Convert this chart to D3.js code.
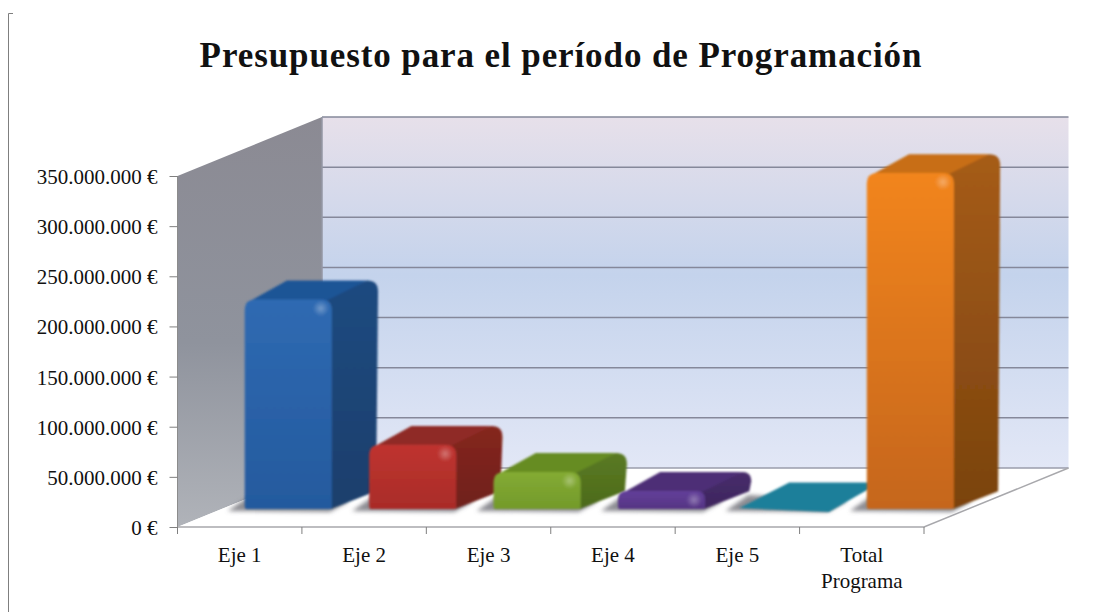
<!DOCTYPE html>
<html><head><meta charset="utf-8">
<script src="https://cdn.jsdelivr.net/npm/d3@7/dist/d3.min.js"></script>
<style>html,body{margin:0;padding:0;background:#fff}svg{display:block}text{font-family:"Liberation Serif",serif;fill:#111}</style>
</head><body><svg id="c" width="1098" height="612"></svg>
<script>
const title = "Presupuesto para el período de Programación";
const categories = ["Eje 1","Eje 2","Eje 3","Eje 4","Eje 5","Total Programa"];
const values = [209000000,64000000,37000000,18000000,1000000,335000000];
const tickValues = [0,50000000,100000000,150000000,200000000,250000000,300000000,350000000];
const tickLabels = ["0 €","50.000.000 €","100.000.000 €","150.000.000 €","200.000.000 €","250.000.000 €","300.000.000 €","350.000.000 €"];
const frontColors = [["#2f6ab2","#245a9e"],["#bf3430","#a92c28"],["#84ab33","#739a2b"],["#63409a","#553483"],["#2389a6","#1c7c97"],["#f2851f","#c5661a"]];
const sideColors = [["#1f4a80","#1c3f6c"],["#85261f","#6f211e"],["#5a7a22","#4c6a1c"],["#472c6b","#3e265e"],["#1a6b82","#175f74"],["#a65c17","#7a430f"]];
const topColors = ["#1f5496","#8f2a25","#668c22","#4d2f76","#1e7f9a","#c86e12"];

const svg = d3.select("#c");
const defs = svg.append("defs");
const W = 746.5, DX = 144.5, DY = 59, X0 = 177.5;
const y = d3.scaleLinear().domain([0,350000000]).range([527,176]);
const xAxisScale = d3.scaleBand().domain(categories).range([X0,X0+W]);
const xBar = d3.scaleBand().domain(categories).range([X0,X0+W]).paddingInner(0.3).paddingOuter(0.15).align(0.62);
const zx = d3.scaleLinear().domain([0,1]).range([0,DX]);
const zy = d3.scaleLinear().domain([0,1]).range([0,-DY]);
const Z1 = 0.305, Z2 = 0.625;

function grad(id, stops, horiz){
  const g = defs.append("linearGradient").attr("id",id)
    .attr("x1",0).attr("y1",0).attr("x2",horiz?1:0).attr("y2",horiz?0:1);
  stops.forEach(s=>g.append("stop").attr("offset",s[0]).attr("stop-color",s[1]));
}
grad("wall",[[0,"#e7e0ea"],[0.45,"#c4d3ec"],[1,"#e2e7f6"]]);
grad("side",[[0,"#8b8a93"],[0.55,"#8f939d"],[1,"#b0b3b9"]]);
const rg = defs.append("radialGradient").attr("id","spark");
rg.append("stop").attr("offset",0).attr("stop-color","#fff").attr("stop-opacity",0.32);
rg.append("stop").attr("offset",1).attr("stop-color","#fff").attr("stop-opacity",0);
const blur = (id,s)=>defs.append("filter").attr("id",id).attr("x","-30%").attr("y","-30%").attr("width","160%").attr("height","160%")
  .append("feGaussianBlur").attr("stdDeviation",s);
blur("soft",0.8); blur("shadow",2.2);
categories.forEach((c,i)=>{
  grad("f"+i,[[0,frontColors[i][0]],[1,frontColors[i][1]]]);
  grad("s"+i,[[0,sideColors[i][0]],[1,sideColors[i][1]]]);
});

// outer frame
svg.append("path").attr("d",d3.line()([[13,13.5],[8.5,13.5],[8.5,612]])).attr("fill","none").attr("stroke","#7f7f7f").attr("stroke-width",1);

// walls
const yTop = y.range()[1], yBot = y.range()[0];
svg.append("path").attr("fill","url(#wall)")
  .attr("d",d3.line()([[X0+DX,yTop-DY],[X0+W+DX,yTop-DY],[X0+W+DX,yBot-DY],[X0+DX,yBot-DY]]));
svg.append("path").attr("fill","url(#side)")
  .attr("d",d3.line()([[X0,yTop],[X0+DX,yTop-DY],[X0+DX,yBot-DY],[X0,yBot]]));
svg.append("path").attr("fill","#ffffff")
  .attr("d",d3.line()([[X0,yBot],[X0+W,yBot],[X0+W+DX,yBot-DY],[X0+DX,yBot-DY]]));

// gridlines
svg.append("g").selectAll("line").data(tickValues.slice(1)).join("line")
  .attr("x1",X0+DX).attr("x2",X0+W+DX).attr("y1",d=>y(d)-DY).attr("y2",d=>y(d)-DY)
  .attr("stroke","#85889a").attr("stroke-width",1.5);
svg.append("line").attr("x1",X0+DX).attr("x2",X0+W+DX).attr("y1",yBot-DY).attr("y2",yBot-DY).attr("stroke","#9a9cab").attr("stroke-width",1.5);
svg.append("line").attr("x1",X0+DX).attr("x2",X0+DX).attr("y1",yTop-DY).attr("y2",yBot-DY).attr("stroke","#9497a5").attr("stroke-width",1.5);
svg.append("path").attr("fill","none").attr("stroke","#a8a8ac").attr("stroke-width",1.5)
  .attr("d",d3.line()([[X0,yBot],[X0+W,yBot],[X0+W+DX,yBot-DY]]));

// axes
const yAxis = d3.axisLeft(y).tickValues(tickValues).tickSize(8).tickPadding(12).tickFormat((d,i)=>tickLabels[i]);
const gy = svg.append("g").attr("transform",`translate(${X0},0)`).call(yAxis);
gy.select(".domain").attr("stroke","#8c8c8c").attr("d",`M0,${yTop}V${yBot}`);
gy.selectAll(".tick line").attr("stroke","#7f7f7f");
gy.selectAll("text").attr("font-size",21).attr("font-family","Liberation Serif").attr("fill","#111").attr("dy","0.36em");

const tickXs = d3.range(categories.length+1).map(i=>X0+i*xAxisScale.step());
svg.append("g").selectAll("line").data(tickXs).join("line")
  .attr("x1",d=>d).attr("x2",d=>d).attr("y1",yBot).attr("y2",yBot+7).attr("stroke","#7f7f7f");
const lab = svg.append("g").selectAll("text").data(categories).join("text")
  .attr("text-anchor","middle").attr("font-size",21)
  .attr("x",d=>xAxisScale(d)+xAxisScale.bandwidth()/2).attr("y",562);
lab.each(function(d){
  const parts = d==="Total Programa" ? ["Total","Programa"] : [d];
  d3.select(this).selectAll("tspan").data(parts).join("tspan")
    .attr("x",d3.select(this).attr("x")).attr("dy",(p,i)=>i?26:0).text(p=>p);
});

// title
svg.append("text").attr("x",561).attr("y",67).attr("text-anchor","middle")
  .attr("font-size",35).attr("font-weight","bold").attr("letter-spacing","0.9").text(title);

// bars
const bars = svg.append("g");
const bw = xBar.bandwidth();
const baseF = yBot + zy(Z1), dxF = zx(Z1), dxB = zx(Z2), dyB = zy(Z2)-zy(Z1);
const shadowG = bars.append("g").attr("filter","url(#shadow)");
categories.forEach((c,i)=>{
  const l = xBar(c)+dxF, r = l+bw, dB = dxB-dxF;
  shadowG.append("path").attr("fill","#6f6f78").attr("opacity",0.8)
    .attr("d",d3.line()([[l-17,baseF+2],[r-2,baseF+3],[r+18,baseF-8],[l+6,baseF-14]]));
  const h0 = y(0)-y(values[i]);
  const flat = h0 < 6;
  const top = baseF - h0;
  const g = bars.append("g").attr("filter","url(#soft)");
  const rad = Math.min(11, h0/2);
  const fdB = flat ? dB*1.1 : dB, fdY = flat ? dyB*1.35 : dyB;
  // side
  let p = d3.path();
  p.moveTo(r-1,baseF);
  p.lineTo(r+fdB-2,baseF+fdY+1);
  p.lineTo(r+fdB,top+fdY+rad);
  p.quadraticCurveTo(r+fdB,top+fdY,r+fdB-rad,top+fdY);
  p.lineTo(r-rad,top);
  p.closePath();
  g.append("path").attr("d",p.toString()).attr("fill",`url(#s${i})`);
  // top
  p = d3.path();
  p.moveTo(l+(flat?-3:1),top+(flat?0:4));
  p.lineTo(l+fdB-4,top+fdY);
  p.lineTo(r+fdB-rad,top+fdY);
  p.lineTo(r-rad,top+4);
  p.closePath();
  g.append("path").attr("d",p.toString()).attr("fill",topColors[i]);
  // front
  if(!flat){
    p = d3.path();
    p.moveTo(l,baseF-2);
    p.lineTo(l,top+rad);
    p.quadraticCurveTo(l,top,l+rad,top);
    p.lineTo(r-rad,top);
    p.quadraticCurveTo(r,top,r,top+rad);
    p.lineTo(r,baseF-2);
    p.quadraticCurveTo(r,baseF,r-2,baseF);
    p.lineTo(l+2,baseF);
    p.quadraticCurveTo(l,baseF,l,baseF-2);
    p.closePath();
    g.append("path").attr("d",p.toString()).attr("fill",`url(#f${i})`);
    g.append("ellipse").attr("cx",r-11).attr("cy",top+Math.min(9,h0/2)).attr("rx",8).attr("ry",8).attr("fill","url(#spark)");
  }
});
</script></body></html>
